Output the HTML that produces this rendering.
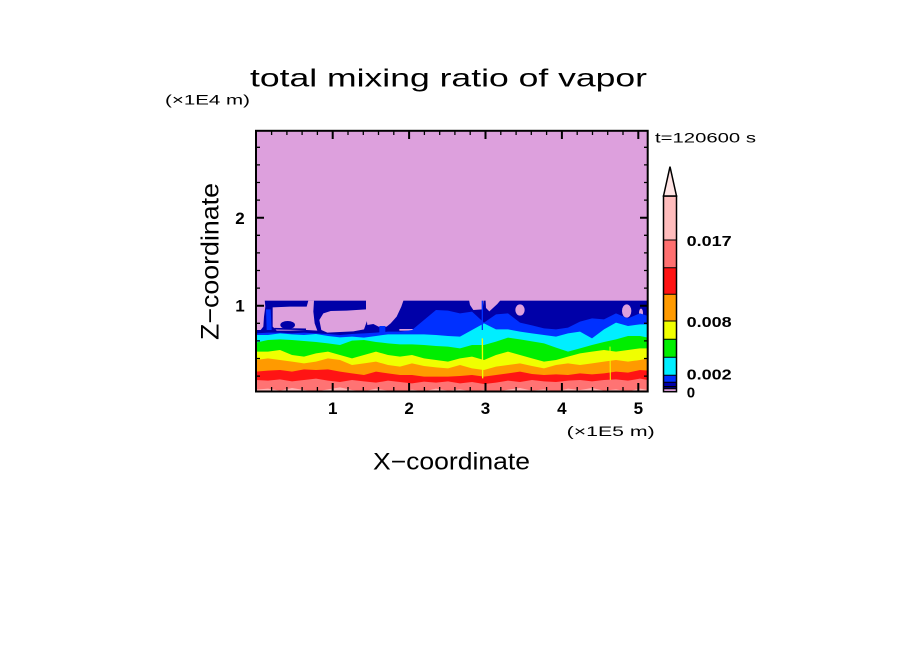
<!DOCTYPE html>
<html><head><meta charset="utf-8"><style>
html,body{margin:0;padding:0;background:#fff;}
svg{display:block;}
text{font-family:"Liberation Sans",sans-serif;fill:#000;}
</style></head><body>
<svg width="904" height="654" viewBox="0 0 904 654" xmlns="http://www.w3.org/2000/svg">
<defs><clipPath id="pc"><rect x="256" y="130" width="392" height="262"/></clipPath></defs>
<rect width="904" height="654" fill="#fff"/>
<g clip-path="url(#pc)">
<rect x="256" y="130" width="392" height="262" fill="#dda0dd"/>
<g transform="translate(240,280) scale(0.333333)">
<rect x="40" y="62" width="1200" height="300" fill="#0000a8"/>
<g fill="#dda0dd">
<path d="M40,48 L73,48 L76,80 L72,110 L70,140 L62,150 L40,150 Z"/>
<path d="M98,82 L150,80 L200,80 L205,62 L222,62 L220,95 L224,130 L232,152 L200,150 L150,152 L110,152 L98,140 Z"/>
<path d="M238,120 L250,100 L272,93 L320,92 L378,88 L382,120 L372,148 L340,154 L300,156 L262,158 L244,150 Z"/>
<path d="M378,48 L495,48 L484,80 L470,110 L452,130 L440,140 L420,142 L400,132 L382,135 L378,100 Z"/>
<rect x="478" y="147" width="80" height="5"/>
<path d="M685,48 L732,48 L728,88 L700,90 L690,75 Z"/>
<path d="M736,48 L792,48 L772,72 L748,94 L738,84 Z"/>
<ellipse cx="840" cy="90" rx="14" ry="17"/>
<ellipse cx="1160" cy="93" rx="14" ry="20"/>
<ellipse cx="1203" cy="98" rx="6" ry="12"/>
</g>
<ellipse cx="143" cy="135" rx="22" ry="12" fill="#0000a8"/>
<path d="M103,146 L198,148" stroke="#0000a8" stroke-width="5"/>
<path d="M78,88 L92,88 L95,150 L80,150 Z" fill="#0030ff"/>
<rect x="418" y="138" width="18" height="20" fill="#0030ff"/>
<path fill="#0030ff" d="M40,160 L48,160 L84,158 L120,158 L156,160 L192,158 L228,160 L264,162 L300,165 L336,162 L372,160 L408,158 L444,155 L480,155 L516,150 L552,120 L588,90 L624,92 L660,100 L696,95 L732,128 L768,103 L804,100 L840,128 L876,136 L912,145 L948,148 L984,143 L1020,125 L1056,115 L1092,118 L1128,100 L1164,115 L1200,100 L1224,108 L1232,108 L1232,345 L40,345Z"/>
<path fill="#00eeff" d="M40,165 L48,165 L84,165 L120,160 L156,163 L192,165 L228,162 L264,168 L300,172 L336,170 L372,173 L408,168 L444,163 L480,163 L516,163 L552,163 L588,165 L624,168 L660,170 L696,150 L732,130 L768,148 L804,148 L840,155 L876,160 L912,165 L948,170 L984,160 L1020,155 L1056,175 L1092,148 L1128,128 L1164,138 L1200,133 L1224,133 L1232,133 L1232,345 L40,345Z"/>
<path fill="#00ee00" d="M40,188 L48,188 L84,180 L120,178 L156,180 L192,183 L228,186 L264,190 L300,195 L336,182 L372,180 L408,186 L444,190 L480,193 L516,193 L552,195 L588,198 L624,200 L660,205 L696,195 L732,195 L768,185 L804,173 L840,178 L876,184 L912,190 L948,203 L984,215 L1020,205 L1056,195 L1092,186 L1128,178 L1164,168 L1200,168 L1224,173 L1232,173 L1232,345 L40,345Z"/>
<path fill="#f0ff00" d="M40,215 L48,215 L84,215 L120,210 L156,225 L192,230 L228,220 L264,215 L300,225 L336,235 L372,225 L408,215 L444,225 L480,230 L516,225 L552,235 L588,240 L624,245 L660,235 L696,230 L732,240 L768,225 L804,215 L840,225 L876,235 L912,245 L948,240 L984,230 L1020,220 L1056,215 L1092,210 L1128,215 L1164,210 L1200,205 L1224,205 L1232,205 L1232,345 L40,345Z"/>
<path fill="#ff9a00" d="M40,240 L48,240 L84,235 L120,240 L156,245 L192,250 L228,245 L264,235 L300,240 L336,255 L372,250 L408,245 L444,255 L480,260 L516,250 L552,258 L588,262 L624,265 L660,255 L696,265 L732,270 L768,260 L804,255 L840,250 L876,258 L912,265 L948,255 L984,250 L1020,255 L1056,250 L1092,245 L1128,240 L1164,245 L1200,240 L1224,235 L1232,235 L1232,345 L40,345Z"/>
<path fill="#ff1414" d="M40,275 L48,275 L84,272 L120,270 L156,275 L192,268 L228,270 L264,268 L300,275 L336,280 L372,285 L408,275 L444,280 L480,285 L516,285 L552,290 L588,290 L624,290 L660,288 L696,285 L732,290 L768,285 L804,280 L840,275 L876,282 L912,285 L948,283 L984,285 L1020,280 L1056,283 L1092,280 L1128,275 L1164,278 L1200,270 L1224,272 L1232,272 L1232,345 L40,345Z"/>
<path fill="#ff7373" d="M40,300 L48,300 L84,302 L120,298 L156,304 L192,300 L228,296 L264,302 L300,306 L336,300 L372,304 L408,308 L444,302 L480,306 L516,310 L552,305 L588,308 L624,304 L660,310 L696,306 L732,312 L768,308 L804,302 L840,306 L876,300 L912,304 L948,306 L984,302 L1020,300 L1056,304 L1092,300 L1128,298 L1164,302 L1200,296 L1224,300 L1232,300 L1232,345 L40,345Z"/>
<path fill="#ffb4b4" d="M40,329 L48,329 L84,326 L120,332 L156,324 L192,330 L228,334 L264,328 L300,322 L336,330 L372,334 L408,326 L444,332 L480,336 L516,329 L552,334 L588,326 L624,332 L660,328 L696,334 L732,330 L768,336 L804,329 L840,324 L876,332 L912,328 L948,334 L984,326 L1020,330 L1056,324 L1092,332 L1128,328 L1164,334 L1200,326 L1224,330 L1232,330 L1232,345 L40,345Z"/>
<path d="M727,175 L728,295" stroke="#f0ff00" stroke-width="4"/>
<path d="M727,62 L727,150" stroke="#0030ff" stroke-width="4"/>
<path d="M1110,200 L1111,300" stroke="#f0ff00" stroke-width="3"/>
</g>
</g>
<rect x="256" y="130.8" width="391.7" height="260.7" fill="none" stroke="#000" stroke-width="2"/>
<g stroke="#000" fill="none">
<path stroke-width="2" d="M332.7,391v-8M409.1,391v-8M485.5,391v-8M561.9,391v-8M638.3,391v-8M332.7,131v8M409.1,131v8M485.5,131v8M561.9,131v8M638.3,131v8M256,305.7h8M256,217.7h8M648,305.7h-8M648,217.7h-8"/>
<path stroke-width="1.3" d="M271.6,391v-4M286.9,391v-4M302.1,391v-4M317.4,391v-4M348,391v-4M363.3,391v-4M378.5,391v-4M393.8,391v-4M424.4,391v-4M439.7,391v-4M454.9,391v-4M470.2,391v-4M500.8,391v-4M516.1,391v-4M531.3,391v-4M546.6,391v-4M577.2,391v-4M592.5,391v-4M607.7,391v-4M623,391v-4
M271.6,131v4M286.9,131v4M302.1,131v4M317.4,131v4M348,131v4M363.3,131v4M378.5,131v4M393.8,131v4M424.4,131v4M439.7,131v4M454.9,131v4M470.2,131v4M500.8,131v4M516.1,131v4M531.3,131v4M546.6,131v4M577.2,131v4M592.5,131v4M607.7,131v4M623,131v4
M256,376.1h4M256,358.5h4M256,340.9h4M256,323.3h4M256,288.1h4M256,270.5h4M256,252.9h4M256,235.3h4M256,200.1h4M256,182.5h4M256,164.9h4M256,147.3h4
M648,376.1h-4M648,358.5h-4M648,340.9h-4M648,323.3h-4M648,288.1h-4M648,270.5h-4M648,252.9h-4M648,235.3h-4M648,200.1h-4M648,182.5h-4M648,164.9h-4M648,147.3h-4"/>
</g>
<!-- colorbar -->
<rect x="663.5" y="196" width="13" height="44" fill="#ffbcbc"/>
<rect x="663.5" y="240" width="13" height="27.7" fill="#ff7070"/>
<rect x="663.5" y="267.7" width="13" height="26.6" fill="#ff1212"/>
<rect x="663.5" y="294.3" width="13" height="26.7" fill="#ff9a00"/>
<rect x="663.5" y="321" width="13" height="18.3" fill="#f0ff00"/>
<rect x="663.5" y="339.3" width="13" height="18" fill="#00ee00"/>
<rect x="663.5" y="357.3" width="13" height="18" fill="#00eeff"/>
<rect x="663.5" y="375.3" width="13" height="7" fill="#0030ff"/>
<rect x="663.5" y="382.3" width="13" height="4.2" fill="#0000a8"/>
<rect x="663.5" y="386.5" width="13" height="2" fill="#000070"/>
<rect x="663.5" y="388.5" width="13" height="3.2" fill="#dda0dd"/>
<g stroke="#000" stroke-width="1">
<path d="M663.5,240h13M663.5,267.7h13M663.5,294.3h13M663.5,321h13M663.5,339.3h13M663.5,357.3h13M663.5,375.3h13M663.5,382.3h13M663.5,386.5h13M663.5,388.7h13"/>
</g>
<rect x="663.5" y="196" width="13" height="195.7" fill="none" stroke="#000" stroke-width="1.5"/>
<path d="M663.5,196 L670,166.7 L676.5,196 Z" fill="#ffe4e4" stroke="#000" stroke-width="1.5" stroke-linejoin="miter"/>
<g font-weight="bold" font-size="15">
<text x="686.7" y="246" textLength="45" lengthAdjust="spacingAndGlyphs">0.017</text>
<text x="686.7" y="327" textLength="45" lengthAdjust="spacingAndGlyphs">0.008</text>
<text x="686.7" y="379.5" textLength="45" lengthAdjust="spacingAndGlyphs">0.002</text>
<text x="686.7" y="397.5">0</text>
</g>
<!-- texts -->
<text x="250" y="86.5" font-size="25" textLength="397" lengthAdjust="spacingAndGlyphs">total mixing ratio of vapor</text>
<text x="165" y="104.5" font-size="13.5" textLength="85" lengthAdjust="spacingAndGlyphs">(×1E4 m)</text>
<text x="655" y="142.7" font-size="14" textLength="101" lengthAdjust="spacingAndGlyphs">t=120600 s</text>
<text transform="translate(218.3,340) rotate(-90)" x="0" y="0" font-size="25" textLength="157" lengthAdjust="spacingAndGlyphs">Z−coordinate</text>
<text x="373" y="469.3" font-size="24" textLength="157" lengthAdjust="spacingAndGlyphs">X−coordinate</text>
<text x="566.7" y="436" font-size="13.5" textLength="88" lengthAdjust="spacingAndGlyphs">(×1E5 m)</text>
<g font-weight="bold" font-size="17" text-anchor="middle">
<text x="332.7" y="414">1</text>
<text x="409.1" y="414">2</text>
<text x="485.5" y="414">3</text>
<text x="561.9" y="414">4</text>
<text x="638.3" y="414">5</text>
<text x="240" y="224">2</text>
<text x="240" y="311.7">1</text>
</g>
</svg>
</body></html>
